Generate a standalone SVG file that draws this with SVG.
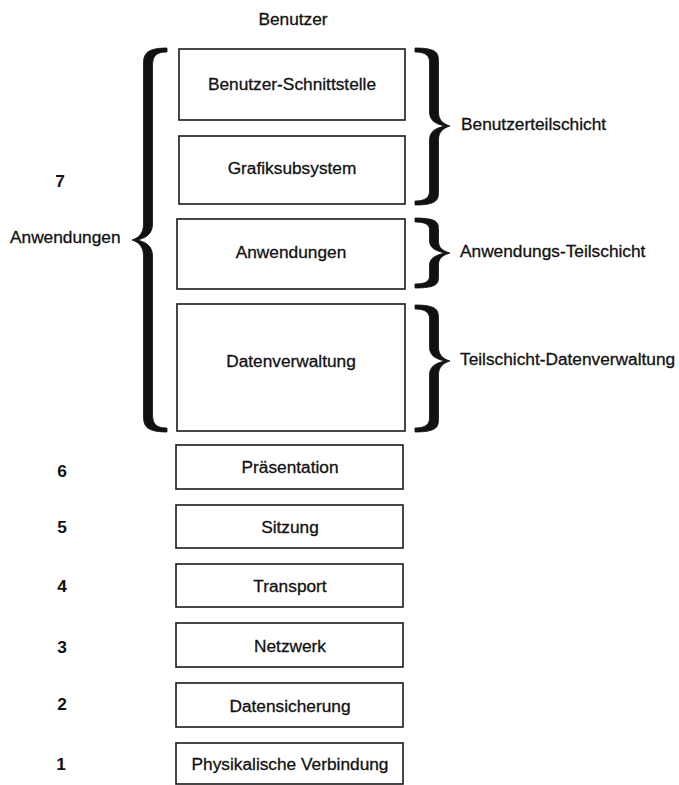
<svg xmlns="http://www.w3.org/2000/svg" width="679" height="785" viewBox="0 0 679 785">
<style>
text{font-family:"Liberation Sans",Arial,sans-serif;font-size:17.3px;fill:#111;stroke:#111;stroke-width:0.3}
.c{text-anchor:middle}
.num{font-weight:bold;stroke-width:0}
.box{fill:#fff;stroke:#1a1a1a;stroke-width:1.6}
.brace{fill:#111;stroke:#111;stroke-width:0.8;stroke-linejoin:round}
</style>
<rect width="679" height="785" fill="#fff"/>
<text class="c" x="293" y="25">Benutzer</text>
<g id="n-benutzer-schnittstelle"><rect class="box" x="179" y="49" width="226" height="71"/><text class="c" x="292" y="90">Benutzer-Schnittstelle</text></g>
<g id="n-grafiksubsystem"><rect class="box" x="179" y="136" width="226" height="68"/><text class="c" x="292" y="174">Grafiksubsystem</text></g>
<g id="n-anwendungen"><rect class="box" x="177" y="219" width="228" height="70"/><text class="c" x="291" y="258">Anwendungen</text></g>
<g id="n-datenverwaltung"><rect class="box" x="177" y="304" width="228" height="127"/><text class="c" x="291" y="367">Datenverwaltung</text></g>
<g id="n-praesentation"><rect class="box" x="176" y="445" width="227" height="44"/><text class="c" x="290" y="473">Präsentation</text></g>
<g id="n-sitzung"><rect class="box" x="176" y="505" width="227" height="43"/><text class="c" x="290" y="533">Sitzung</text></g>
<g id="n-transport"><rect class="box" x="176" y="564" width="227" height="43"/><text class="c" x="290" y="592">Transport</text></g>
<g id="n-netzwerk"><rect class="box" x="176" y="623" width="227" height="44"/><text class="c" x="290" y="652">Netzwerk</text></g>
<g id="n-datensicherung"><rect class="box" x="176" y="683" width="227" height="44"/><text class="c" x="290" y="712">Datensicherung</text></g>
<g id="n-physikalisch"><rect class="box" x="176" y="743" width="227" height="41"/><text class="c" x="290" y="770">Physikalische Verbindung</text></g>
<g id="layer-numbers">
<text class="c num" x="60" y="187">7</text>
<text x="10" y="243">Anwendungen</text>
<text class="c num" x="62" y="477">6</text>
<text class="c num" x="62" y="533">5</text>
<text class="c num" x="62" y="592">4</text>
<text class="c num" x="62" y="653">3</text>
<text class="c num" x="62" y="710">2</text>
<text class="c num" x="61" y="770">1</text>
</g>
<g id="sublayer-labels">
<text x="461" y="130">Benutzerteilschicht</text>
<text x="460" y="257">Anwendungs-Teilschicht</text>
<text x="460" y="365">Teilschicht-Datenverwaltung</text>
</g>
<g id="connectors">
<path class="brace" d="M167,48 C143.5,48 143.5,56 143.5,66 L143.5,224 C143.5,234 138,238 132,240 C138,242 143.5,246 143.5,256 L143.5,414 C143.5,424 143.5,432 167,432 L167,428 C156,428 152.5,424 152.5,414 L152.5,256 C152.5,246 146,242 137,240 C146,238 152.5,234 152.5,224 L152.5,66 C152.5,56 156,52 167,52 Z"/>
<path class="brace" d="M415,48 C438.5,48 438.5,54 438.5,62 L438.5,112 C438.5,121 444,124 450,126 C444,128 438.5,131 438.5,140 L438.5,191 C438.5,199 438.5,205 415,205 L415,201 C426,201 429.5,197 429.5,191 L429.5,140 C429.5,131 436,128 445,126 C436,124 429.5,121 429.5,112 L429.5,62 C429.5,56 426,52 415,52 Z"/>
<path class="brace" d="M415,218 C438.5,218 438.5,223 438.5,230 L438.5,241 C438.5,249 444,251 450,253 C444,255 438.5,257 438.5,265 L438.5,276 C438.5,283 438.5,288 415,288 L415,284 C426,284 429.5,281 429.5,276 L429.5,265 C429.5,258 436,255 445,253 C436,251 429.5,248 429.5,241 L429.5,230 C429.5,225 426,222 415,222 Z"/>
<path class="brace" d="M415,305 C438.5,305 438.5,311 438.5,319 L438.5,347 C438.5,356 444,359 450,361 C444,363 438.5,366 438.5,375 L438.5,418 C438.5,426 438.5,432 415,432 L415,428 C426,428 429.5,424 429.5,418 L429.5,375 C429.5,366 436,363 445,361 C436,359 429.5,356 429.5,347 L429.5,319 C429.5,313 426,309 415,309 Z"/>
</g>
</svg>
